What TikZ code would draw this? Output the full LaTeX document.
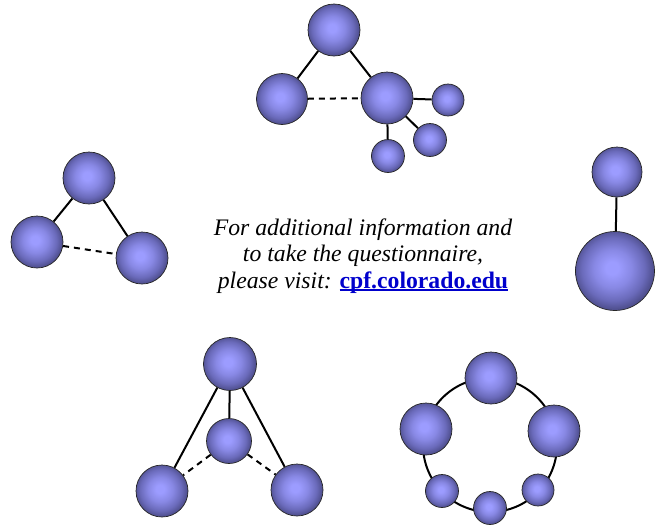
\documentclass[tikz,border=0pt]{standalone}
\usepackage{fontspec}
\setmainfont{Liberation Serif}
\usepackage{xcolor}
\definecolor{bc1}{RGB}{156,156,255}
\definecolor{bc2}{RGB}{136,136,228}
\definecolor{bc3}{RGB}{106,106,186}
\definecolor{bc4}{RGB}{80,80,144}
\definecolor{linkblue}{RGB}{0,0,204}
\pgfdeclareradialshading{sphshade}{\pgfpoint{-2bp}{2bp}}{color(0bp)=(bc1); color(4bp)=(bc1); color(12bp)=(bc2); color(20bp)=(bc3); color(25bp)=(bc4); color(50bp)=(bc4)}
\newcommand{\ulink}[1]{\textcolor{linkblue}{\upshape\bfseries\setbox0\hbox{#1}\rlap{\rule[-2.5pt]{\wd0}{1.6pt}}\box0}}
\begin{document}
\begin{tikzpicture}[x=1pt,y=-1pt,
  sph/.style={circle, draw=black!85, line width=0.7pt, shading=sphshade, minimum size=#1, inner sep=0pt},
  link/.style={line width=2pt, black},
  dlink/.style={line width=2pt, black, dash pattern=on 6pt off 5pt}]
\useasboundingbox (0,0) rectangle (660,525);
% top cluster
\node[sph=52pt] (a1) at (334,30) {};
\node[sph=51pt] (a2) at (282,99) {};
\node[sph=52pt] (a3) at (387,98) {};
\node[sph=32pt] (a4) at (448,100) {};
\node[sph=33pt] (a5) at (430,140) {};
\node[sph=33pt] (a6) at (388,156) {};
\draw[link] (a1) -- (a2);
\draw[link] (a1) -- (a3);
\draw[dlink] (a2) -- (a3);
\draw[link] (a3) -- (a4);
\draw[link] (a3) -- (a5);
\draw[link] (a3) -- (a6);
% left triangle
\node[sph=52pt] (b1) at (89,178) {};
\node[sph=52pt] (b2) at (37,242) {};
\node[sph=52pt] (b3) at (142,258) {};
\draw[link] (b1) -- (b2);
\draw[link] (b1) -- (b3);
\draw[dlink] (b2) -- (b3);
% right pair
\node[sph=50pt] (c1) at (617,172) {};
\node[sph=79pt] (c2) at (615,271) {};
\draw[link] (c1) -- (c2);
% bottom left
\node[sph=53pt] (d1) at (230,364) {};
\node[sph=45pt] (d2) at (229,441) {};
\node[sph=52pt] (d3) at (162,491) {};
\node[sph=52pt] (d4) at (297,490) {};
\draw[link] (d1) -- (d2);
\draw[link] (d1) -- (d3);
\draw[link] (d1) -- (d4);
\draw[dlink] (d2) -- (d3);
\draw[dlink] (d2) -- (d4);
% ring
\coordinate (rc) at (490,445);
\draw[link] (rc) circle[radius=67pt];
\node[sph=52pt] (e1) at (491,378) {};
\node[sph=52pt] (e2) at (426,429) {};
\node[sph=52pt] (e3) at (554,431) {};
\node[sph=33pt] (e4) at (442,491) {};
\node[sph=33pt] (e5) at (490,508) {};
\node[sph=32pt] (e6) at (538,490) {};
% text
\node[align=center, font=\fontsize{23.7pt}{26.5pt}\selectfont\itshape] (txt) at (363,256)
  {For additional information and\\to take the questionnaire,\\please visit: \ulink{cpf.colorado.edu}};
\end{tikzpicture}
\end{document}
